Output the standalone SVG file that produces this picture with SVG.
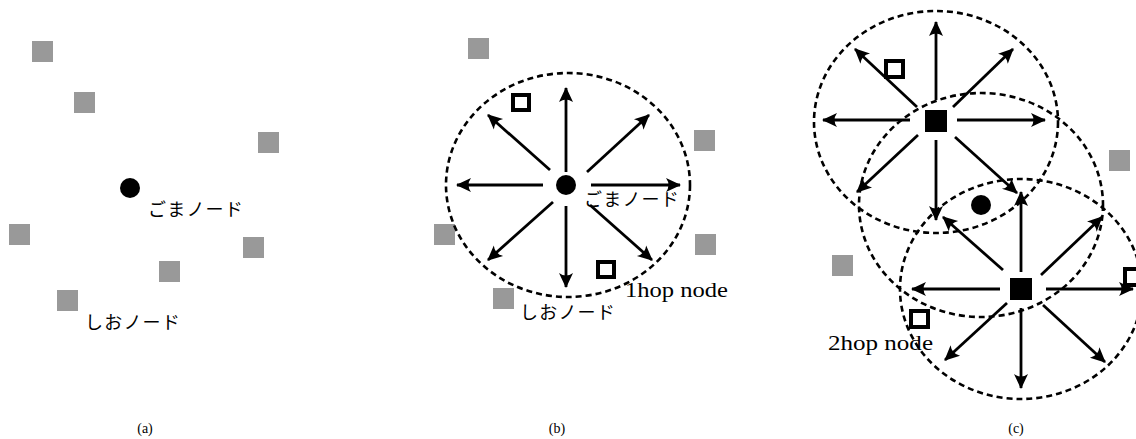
<svg xmlns="http://www.w3.org/2000/svg" width="1136" height="439" viewBox="0 0 1136 439">
<style>
.g{fill:#999999}
.o{fill:none;stroke:#000;stroke-width:4}
.b{fill:#000}
.c{fill:none;stroke:#000;stroke-width:2.6;stroke-dasharray:6 4}
.a{stroke:#000;stroke-width:2.8;fill:none;marker-end:url(#ah)}
.jp{font-family:"Noto Sans CJK JP","Noto Sans",sans-serif;font-size:18px;letter-spacing:1.2px;fill:#000}
.sf{font-family:"Liberation Serif",serif;fill:#000}
</style>
<defs>
<marker id="ah" markerUnits="userSpaceOnUse" markerWidth="18" markerHeight="16" viewBox="-15 -8 17 16" refX="0" refY="0" orient="auto">
<path d="M1,0 L-14,-7 Q-9,0 -14,7 Z" fill="#000"/>
</marker>
</defs>
<g id="panel-a">
<g id="a-gray"><rect class="g" x="32" y="41" width="21" height="21"/><rect class="g" x="74" y="92" width="21" height="21"/><rect class="g" x="258" y="132" width="21" height="21"/><rect class="g" x="9" y="224" width="21" height="21"/><rect class="g" x="243" y="237" width="21" height="21"/><rect class="g" x="159" y="261" width="21" height="21"/><rect class="g" x="57" y="290" width="21" height="21"/></g>
<g id="a-goma"><circle class="b" cx="130" cy="188" r="10"/><text class="jp" x="148" y="216">ごまノード</text></g>
<g id="a-shio"><text class="jp" x="85" y="329">しおノード</text></g>
<text class="sf" x="145" y="433" font-size="14" text-anchor="middle">(a)</text>
</g>
<g id="panel-b">
<g id="b-gray"><rect class="g" x="468" y="38" width="21" height="21"/><rect class="g" x="694" y="130" width="21" height="21"/><rect class="g" x="434" y="224" width="21" height="21"/><rect class="g" x="695" y="234" width="21" height="21"/><rect class="g" x="493" y="288" width="21" height="21"/></g>
<g id="b-range"><ellipse class="c" cx="568" cy="185" rx="122" ry="112"/></g>
<g id="b-connectors">
<line class="a" x1="566" y1="172" x2="566" y2="88"/>
<line class="a" x1="543" y1="185" x2="457" y2="185"/>
<line class="a" x1="591" y1="185" x2="680" y2="185"/>
<line class="a" x1="566" y1="206" x2="566" y2="287"/>
<line class="a" x1="550" y1="170" x2="488" y2="115"/>
<line class="a" x1="587" y1="172" x2="649" y2="115"/>
<line class="a" x1="553" y1="202" x2="488" y2="260"/>
<line class="a" x1="590" y1="205" x2="652" y2="260"/>
</g>
<g id="b-1hop"><rect class="o" x="513" y="95" width="16" height="15"/><rect class="o" x="598" y="262" width="16" height="15"/></g>
<g id="b-goma"><circle class="b" cx="566" cy="185" r="10"/><text class="jp" x="584" y="206">ごまノード</text></g>
<text class="sf" x="625" y="297" font-size="21" textLength="103" lengthAdjust="spacingAndGlyphs">1hop node</text>
<g id="b-shio"><text class="jp" x="520" y="319">しおノード</text></g>
<text class="sf" x="557" y="433" font-size="14" text-anchor="middle">(b)</text>
</g>
<g id="panel-c">
<g id="c-gray"><rect class="g" x="1109" y="150" width="21" height="21"/><rect class="g" x="832" y="255" width="21" height="21"/></g>
<g id="c-ranges">
<ellipse class="c" cx="936" cy="122" rx="122" ry="111"/>
<ellipse class="c" cx="981" cy="205" rx="122" ry="112"/>
<ellipse class="c" cx="1021" cy="289" rx="121" ry="110"/>
</g>
<g id="c-connectors">
<line class="a" x1="936" y1="100" x2="936" y2="22"/>
<line class="a" x1="910" y1="120" x2="823" y2="120"/>
<line class="a" x1="957" y1="120" x2="1045" y2="120"/>
<line class="a" x1="936" y1="140" x2="936" y2="220"/>
<line class="a" x1="917" y1="107" x2="855" y2="49"/>
<line class="a" x1="953" y1="107" x2="1013" y2="49"/>
<line class="a" x1="918" y1="135" x2="857" y2="192"/>
<line class="a" x1="955" y1="137" x2="1017" y2="193"/>
<line class="a" x1="1021" y1="272" x2="1021" y2="192"/>
<line class="a" x1="1000" y1="289" x2="912" y2="289"/>
<line class="a" x1="1046" y1="289" x2="1133" y2="289"/>
<line class="a" x1="1021" y1="308" x2="1021" y2="388"/>
<line class="a" x1="1003" y1="270" x2="943" y2="217"/>
<line class="a" x1="1041" y1="275" x2="1102" y2="217"/>
<line class="a" x1="1007" y1="303" x2="945" y2="360"/>
<line class="a" x1="1043" y1="305" x2="1105" y2="362"/>
</g>
<g id="c-relay1"><rect class="b" x="925" y="110" width="22" height="22"/></g>
<g id="c-relay2"><rect class="b" x="1010" y="278" width="22" height="22"/></g>
<g id="c-goma"><circle class="b" cx="981" cy="205" r="10"/></g>
<g id="c-2hop"><rect class="o" x="886" y="61" width="17" height="16"/><rect class="o" x="911" y="311" width="17" height="16"/><rect class="o" x="1125" y="269" width="17" height="16"/></g>
<text class="sf" x="828" y="350" font-size="21" textLength="105" lengthAdjust="spacingAndGlyphs">2hop node</text>
<text class="sf" x="1016" y="433" font-size="14" text-anchor="middle">(c)</text>
</g>
</svg>
